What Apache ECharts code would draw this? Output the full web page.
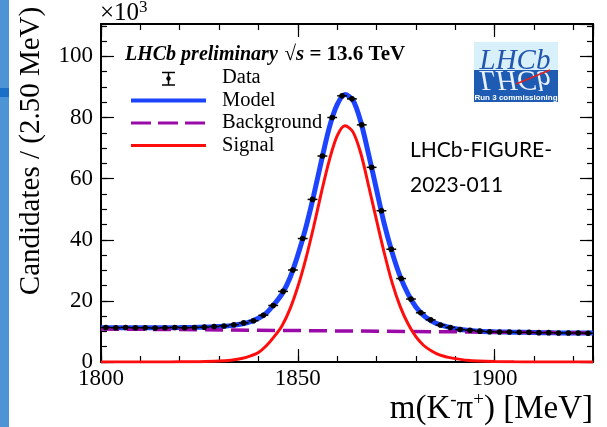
<!DOCTYPE html>
<html>
<head>
<meta charset="utf-8">
<script src="https://cdn.jsdelivr.net/npm/echarts@6/dist/echarts.min.js"></script>
<style>
html, body { margin: 0; padding: 0; background: #fff; }
#chart { width: 607px; height: 427px; }
</style>
</head>
<body>
<div id="chart"></div>
<script>
// 数据：单位 10^3 候选数 / 2.5 MeV
const binCenters = [
    1801.25, 1803.75, 1806.25, 1808.75, 1811.25, 1813.75, 1816.25, 1818.75, 1821.25, 1823.75,
    1826.25, 1828.75, 1831.25, 1833.75, 1836.25, 1838.75, 1841.25, 1843.75, 1846.25, 1848.75,
    1851.25, 1853.75, 1856.25, 1858.75, 1861.25, 1863.75, 1866.25, 1868.75, 1871.25, 1873.75,
    1876.25, 1878.75, 1881.25, 1883.75, 1886.25, 1888.75, 1891.25, 1893.75, 1896.25, 1898.75,
    1901.25, 1903.75, 1906.25, 1908.75, 1911.25, 1913.75, 1916.25, 1918.75, 1921.25, 1923.75
];
const dataCounts = [
    11.3, 11.2, 11.3, 11.2, 11.2, 11.1, 11.2, 11.3, 11.2, 11.3,
    11.4, 11.6, 11.8, 12.2, 12.8, 13.5, 15.3, 18.5, 23.1, 30.1,
    40.4, 53.2, 67.4, 80.0, 87.1, 86.1, 77.6, 63.7, 49.5, 36.9,
    27.3, 20.6, 16.1, 13.8, 12.1, 11.3, 10.6, 10.4, 10.1, 9.9,
    9.8, 9.8, 9.7, 9.7, 9.6, 9.6, 9.5, 9.5, 9.5, 9.4
];
const binHalfWidth = 1.25;

// 拟合曲线
const curveX = [
    1800, 1805, 1810, 1815, 1820, 1825, 1830, 1833, 1836, 1838,
    1840, 1842, 1844, 1846, 1848, 1850, 1852, 1854, 1856, 1858,
    1860, 1862, 1864, 1866, 1868, 1870, 1872, 1874, 1876, 1878,
    1880, 1882, 1884, 1886, 1888, 1890, 1893, 1896, 1900, 1905,
    1910, 1915, 1920, 1925
];
const modelY = [
    11.2, 11.2, 11.2, 11.2, 11.25, 11.35, 11.6, 11.9, 12.5, 13.2,
    14.3, 16.0, 18.9, 22.3, 27.5, 34.9, 43.8, 54.3, 65.8, 76.7,
    84.2, 87.5, 85.7, 78.6, 67.9, 56.4, 45.0, 35.7, 28.0, 22.3,
    18.0, 15.2, 13.4, 12.2, 11.5, 10.9, 10.4, 10.1, 9.9, 9.75,
    9.65, 9.55, 9.5, 9.45
];
const signalY = [
    0, 0, 0, 0, 0.05, 0.1, 0.3, 0.6, 1.2, 2.0,
    3.1, 5.3, 8.3, 11.9, 17.3, 24.6, 33.6, 44.1, 55.5, 66.0,
    74.0, 77.3, 75.3, 68.3, 57.6, 46.4, 35.5, 25.8, 18.2, 12.5,
    8.3, 5.4, 3.6, 2.3, 1.6, 1.1, 0.55, 0.3, 0.15, 0.05,
    0, 0, 0, 0
];
const backgroundX = [1800, 1925];
const backgroundY = [10.8, 9.5];

const xMin = 1800, xMax = 1925;
const yMin = 0, yMax = 110.6;

const serif = '"Liberation Serif", "Times New Roman", serif';

function zip(xs, ys) {
    return xs.map((x, i) => [x, ys[i]]);
}

// 坐标轴：主刻度 + 次刻度，上下左右都画（ROOT 风格，刻度朝内）
function makeAxis(min, max, interval, position, major, withLabel) {
    return {
        type: 'value',
        min: min,
        max: max,
        interval: interval,
        position: position,
        axisLine: { show: major, onZero: false, lineStyle: { color: '#000', width: 2 } },
        axisTick: { show: true, inside: true, length: major ? 13 : 6, lineStyle: { color: '#000', width: 1.2 } },
        axisLabel: withLabel ? {
            show: true, color: '#000', fontFamily: serif, fontSize: 23,
            margin: position === 'left' ? 8 : 5, showMaxLabel: false,
            formatter: v => String(v)
        } : { show: false },
        splitLine: { show: false },
        minorTick: { show: false }
    };
}

const chart = echarts.init(document.getElementById('chart'));

const option = {
    animation: false,
    backgroundColor: '#fff',
    grid: { left: 101, top: 24, right: 14, bottom: 65, containLabel: false },
    xAxis: [
        makeAxis(xMin, xMax, 50, 'bottom', true, true),
        makeAxis(xMin, xMax, 10, 'bottom', false, false),
        makeAxis(xMin, xMax, 50, 'top', true, false),
        makeAxis(xMin, xMax, 10, 'top', false, false)
    ],
    yAxis: [
        makeAxis(yMin, yMax, 20, 'left', true, true),
        makeAxis(yMin, yMax, 5, 'left', false, false),
        makeAxis(yMin, yMax, 20, 'right', true, false),
        makeAxis(yMin, yMax, 5, 'right', false, false)
    ],
    series: [
        {
            name: 'Model',
            type: 'line',
            data: zip(curveX, modelY),
            smooth: 0.3,
            showSymbol: false,
            lineStyle: { color: '#1c44ff', width: 5 },
            z: 2
        },
        {
            name: 'Background',
            type: 'line',
            data: zip(backgroundX, backgroundY),
            showSymbol: false,
            lineStyle: { color: '#9a0aa8', width: 3.5, type: [18, 8] },
            z: 3
        },
        {
            name: 'Signal',
            type: 'line',
            data: zip(curveX, signalY),
            smooth: 0.3,
            showSymbol: false,
            lineStyle: { color: '#ff0d0d', width: 3 },
            z: 4
        },
        {
            name: 'Data',
            type: 'custom',
            data: zip(binCenters, dataCounts),
            encode: { x: 0, y: 1 },
            z: 5,
            renderItem: function (params, api) {
                const x = api.value(0), y = api.value(1);
                const a = api.coord([x - binHalfWidth, y]);
                const b = api.coord([x + binHalfWidth, y]);
                const c = api.coord([x, y]);
                return {
                    type: 'group',
                    children: [
                        { type: 'line', shape: { x1: a[0], y1: a[1], x2: b[0], y2: b[1] }, style: { stroke: '#000', lineWidth: 1.5 } },
                        { type: 'circle', shape: { cx: c[0], cy: c[1], r: 2.8 }, style: { fill: '#000' } }
                    ]
                };
            }
        }
    ],
    graphic: [
        // 左侧蓝条
        { type: 'rect', silent: true, shape: { x: 0, y: 0, width: 9, height: 427 }, style: { fill: '#4d94d6' } },
        { type: 'rect', silent: true, shape: { x: 0, y: 88, width: 9, height: 9 }, style: { fill: '#1a6fc6' } },
        // ×10^3
        {
            type: 'text', x: 100, y: 28,
            style: {
                text: '{a|×10}{s|3}', verticalAlign: 'bottom', fill: '#000',
                rich: {
                    a: { fontFamily: serif, fontSize: 25, lineHeight: 29 },
                    s: { fontFamily: serif, fontSize: 17, lineHeight: 17, verticalAlign: 'top' }
                }
            }
        },
        // 轴标题
        {
            type: 'text', x: 31, y: 151, rotation: Math.PI / 2,
            style: { text: 'Candidates / (2.50 MeV)', font: '29px ' + serif, fill: '#000', align: 'center', verticalAlign: 'middle' }
        },
        {
            type: 'text', x: 593, y: 409,
            style: {
                text: '{a|m(K}{s|-}{a|π}{s|+}{a|) [MeV]}', align: 'right', verticalAlign: 'middle', fill: '#000',
                rich: {
                    a: { fontFamily: serif, fontSize: 33, lineHeight: 37 },
                    s: { fontFamily: serif, fontSize: 19, lineHeight: 19, verticalAlign: 'top' }
                }
            }
        },
        // 标题
        {
            type: 'text', x: 125, y: 55,
            style: {
                text: '{bi|LHCb preliminary}  {c|√}{ci|s}{c| = 13.6 TeV}', verticalAlign: 'middle', fill: '#000',
                rich: {
                    bi: { fontFamily: serif, fontSize: 20, fontWeight: 'bold', fontStyle: 'italic' },
                    ci: { fontFamily: serif, fontSize: 21, fontWeight: 'bold', fontStyle: 'italic' },
                    c: { fontFamily: serif, fontSize: 21, fontWeight: 'bold' }
                }
            }
        },
        // 图例
        { type: 'line', shape: { x1: 168.5, y1: 72.5, x2: 168.5, y2: 85 }, style: { stroke: '#000', lineWidth: 1.5 } },
        { type: 'line', shape: { x1: 162, y1: 72.5, x2: 175, y2: 72.5 }, style: { stroke: '#000', lineWidth: 1.5 } },
        { type: 'line', shape: { x1: 162, y1: 85, x2: 175, y2: 85 }, style: { stroke: '#000', lineWidth: 1.5 } },
        { type: 'circle', shape: { cx: 168.5, cy: 78.5, r: 2.2 }, style: { fill: '#000' } },
        { type: 'line', shape: { x1: 131, y1: 100.5, x2: 206, y2: 100.5 }, style: { stroke: '#1c44ff', lineWidth: 4 } },
        { type: 'line', shape: { x1: 131, y1: 123, x2: 206, y2: 123 }, style: { stroke: '#9a0aa8', lineWidth: 3, lineDash: [20, 7] } },
        { type: 'line', shape: { x1: 131, y1: 145.5, x2: 206, y2: 145.5 }, style: { stroke: '#ff0d0d', lineWidth: 3 } },
        { type: 'text', x: 222, y: 78, style: { text: 'Data', font: '20.5px ' + serif, fill: '#000', verticalAlign: 'middle' } },
        { type: 'text', x: 222, y: 100.5, style: { text: 'Model', font: '20.5px ' + serif, fill: '#000', verticalAlign: 'middle' } },
        { type: 'text', x: 222, y: 123, style: { text: 'Background', font: '20.5px ' + serif, fill: '#000', verticalAlign: 'middle' } },
        { type: 'text', x: 222, y: 145.5, style: { text: 'Signal', font: '20.5px ' + serif, fill: '#000', verticalAlign: 'middle' } },
        // 图号
        {
            type: 'text', x: 410, y: 133,
            style: { text: 'LHCb-FIGURE-\n2023-011', font: '21px Lato, sans-serif', lineHeight: 35, fill: '#000', verticalAlign: 'top' }
        },
        // LHCb 标志
        { type: 'rect', shape: { x: 474, y: 42, width: 84, height: 28 }, style: { fill: '#d7f0fa' } },
        { type: 'rect', shape: { x: 474, y: 70, width: 84, height: 32 }, style: { fill: '#1e5cb3' } },
        {
            type: 'text', x: 515, y: 76,
            style: { text: 'LHCb', font: 'italic 29px ' + serif, fill: '#2355b0', align: 'center', verticalAlign: 'bottom' }
        },
        {
            type: 'group', x: 515, y: 64, scaleY: -1,
            children: [{
                type: 'text', x: 0, y: 0,
                style: { text: 'LHCb', font: 'italic 29px ' + serif, fill: '#e6f0ff', align: 'center', verticalAlign: 'bottom' }
            }]
        },
        { type: 'line', shape: { x1: 516, y1: 84, x2: 550, y2: 70 }, style: { stroke: '#e02020', lineWidth: 1.5 } },
        {
            type: 'text', x: 516, y: 97.5,
            style: { text: 'Run 3 commissioning', font: 'bold 8px "Liberation Sans", sans-serif', fill: '#fff', align: 'center', verticalAlign: 'middle' }
        }
    ]
};

chart.setOption(option);
</script>
</body>
</html>
